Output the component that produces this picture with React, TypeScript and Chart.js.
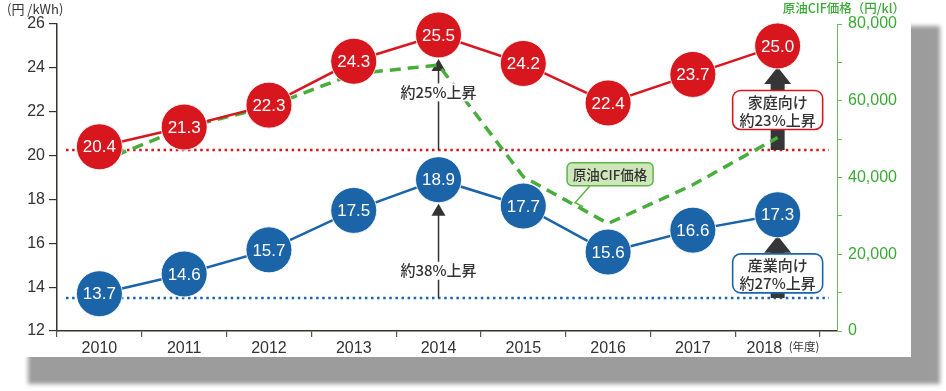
import React, { useEffect, useRef } from 'react';
import { Chart, registerables } from 'chart.js';

Chart.register(...registerables);

// ---- data ----
const years = ['2010', '2011', '2012', '2013', '2014', '2015', '2016', '2017', '2018'];
const householdPrice = [20.4, 21.3, 22.3, 24.3, 25.5, 24.2, 22.4, 23.7, 25.0];
const industrialPrice = [13.7, 14.6, 15.7, 17.5, 18.9, 17.7, 15.6, 16.6, 17.3];
const crudeCifPrice = [44000, 53000, 58500, 67000, 69300, 40200, 28000, 38100, 50400];
const householdBaseline = 20.25;
const industrialBaseline = 13.5;
const leftAxisMin = 12;
const leftAxisMax = 26;
const leftAxisStep = 2;
const rightAxisMin = 0;
const rightAxisMax = 80000;
const rightAxisStep = 10000;
const rightLabelStep = 20000;

// ---- texts ----
const leftTitle = '(円 /kWh)';
const rightTitle = '原油CIF価格（円/kl）';
const yearUnit = '(年度)';
const riseHousehold2014 = '約25%上昇';
const riseIndustrial2014 = '約38%上昇';
const householdBoxLines = ['家庭向け', '約23%上昇'];
const industrialBoxLines = ['産業向け', '約27%上昇'];
const crudeCallout = '原油CIF価格';

// ---- styles ----
const RED = '#d7161d';
const BLUE = '#1b64a8';
const GREEN = '#47ad3b';
const GREEN_TEXT = '#3aa935';
const DARK = '#333333';
const AXIS = '#3a3030';
const R = 23;
const NUM = '"Liberation Sans", "Noto Sans CJK JP", sans-serif';
const JP = '"Noto Sans CJK JP", "Liberation Sans", sans-serif';

function roundRectPath(ctx: CanvasRenderingContext2D, x: number, y: number, w: number, h: number, r: number) {
  ctx.beginPath();
  ctx.moveTo(x + r, y);
  ctx.lineTo(x + w - r, y);
  ctx.arcTo(x + w, y, x + w, y + r, r);
  ctx.lineTo(x + w, y + h - r);
  ctx.arcTo(x + w, y + h, x + w - r, y + h, r);
  ctx.lineTo(x + r, y + h);
  ctx.arcTo(x, y + h, x, y + h - r, r);
  ctx.lineTo(x, y + r);
  ctx.arcTo(x, y, x + r, y, r);
  ctx.closePath();
}

const annotPlugin = {
  id: 'annot',
  beforeDatasetsDraw(chart: any) {
    const { ctx, chartArea: ca, scales } = chart;
    const x = scales.x;
    const y = scales.y;
    ctx.save();
    const dotted = (v: number, color: string) => {
      const py = y.getPixelForValue(v);
      ctx.beginPath();
      ctx.setLineDash([2.5, 3.6]);
      ctx.lineWidth = 2.5;
      ctx.strokeStyle = color;
      ctx.moveTo(ca.left + 9, py);
      ctx.lineTo(ca.right - 8, py);
      ctx.stroke();
    };
    dotted(householdBaseline, RED);
    dotted(industrialBaseline, BLUE);
    ctx.setLineDash([]);

    const i14 = 4;
    const px = x.getPixelForValue(i14);
    const thin = (base: number, val: number) => {
      const y0 = y.getPixelForValue(base);
      const tip = y.getPixelForValue(val) + R + 1;
      ctx.beginPath();
      ctx.strokeStyle = DARK;
      ctx.lineWidth = 1.5;
      ctx.moveTo(px, y0);
      ctx.lineTo(px, tip + 10);
      ctx.stroke();
      ctx.beginPath();
      ctx.fillStyle = DARK;
      ctx.moveTo(px, tip);
      ctx.lineTo(px - 7, tip + 12);
      ctx.lineTo(px + 7, tip + 12);
      ctx.closePath();
      ctx.fill();
    };
    thin(householdBaseline, householdPrice[i14]);
    thin(industrialBaseline, industrialPrice[i14]);

    const i18 = 8;
    const qx = x.getPixelForValue(i18);
    const thick = (base: number, val: number) => {
      const y0 = y.getPixelForValue(base);
      const tip = y.getPixelForValue(val) + R - 2;
      const hh = 17;
      ctx.beginPath();
      ctx.fillStyle = '#363636';
      ctx.moveTo(qx, tip);
      ctx.lineTo(qx + 13.5, tip + hh);
      ctx.lineTo(qx + 7, tip + hh);
      ctx.lineTo(qx + 7, y0);
      ctx.lineTo(qx - 7, y0);
      ctx.lineTo(qx - 7, tip + hh);
      ctx.lineTo(qx - 13.5, tip + hh);
      ctx.closePath();
      ctx.fill();
    };
    thick(householdBaseline, householdPrice[i18]);
    thick(industrialBaseline, industrialPrice[i18]);
    ctx.restore();
  },
  afterDatasetsDraw(chart: any) {
    const { ctx, scales } = chart;
    const x = scales.x;
    const y = scales.y;
    ctx.save();
    ctx.font = `17px ${NUM}`;
    ctx.fillStyle = '#fff';
    ctx.textAlign = 'center';
    ctx.textBaseline = 'middle';
    [0, 1].forEach((di) => {
      const meta = chart.getDatasetMeta(di);
      const vals = chart.data.datasets[di].data as number[];
      meta.data.forEach((pt: any, j: number) => {
        ctx.fillText(vals[j].toFixed(1), pt.x, pt.y + 1);
      });
    });

    const px = x.getPixelForValue(4);
    ctx.font = `500 15px ${JP}`;
    const label = (t: string, v: number) => {
      const py = y.getPixelForValue(v);
      const w = ctx.measureText(t).width;
      ctx.fillStyle = '#fff';
      ctx.fillRect(px - w / 2 - 3, py - 9, w + 6, 18);
      ctx.fillStyle = DARK;
      ctx.fillText(t, px, py);
    };
    label(riseHousehold2014, 22.88);
    label(riseIndustrial2014, 14.75);

    const qx = x.getPixelForValue(8);
    const box = (lines: string[], v: number, color: string) => {
      const cy = y.getPixelForValue(v);
      const w = 90;
      const h = 39;
      roundRectPath(ctx, qx - w / 2, cy - h / 2, w, h, 8);
      ctx.fillStyle = '#fff';
      ctx.fill();
      ctx.lineWidth = 1.6;
      ctx.strokeStyle = color;
      ctx.stroke();
      ctx.fillStyle = DARK;
      ctx.font = `500 15px ${JP}`;
      ctx.fillText(lines[0], qx, cy - 8);
      ctx.fillText(lines[1], qx, cy + 10);
    };
    box(householdBoxLines, 22.08, RED);
    box(industrialBoxLines, 14.63, BLUE);

    const cx = x.getPixelForValue(6) + 2;
    const cy = y.getPixelForValue(19.15);
    const bw = 86;
    const bh = 23;
    ctx.beginPath();
    ctx.strokeStyle = '#5db548';
    ctx.lineWidth = 1.5;
    ctx.moveTo(cx - 20, cy + bh / 2);
    ctx.lineTo(cx - 35, cy + bh / 2 + 17);
    ctx.lineTo(cx - 27, cy + bh / 2 + 21);
    ctx.stroke();
    roundRectPath(ctx, cx - bw / 2, cy - bh / 2, bw, bh, 5);
    ctx.fillStyle = '#cfe6bb';
    ctx.fill();
    ctx.stroke();
    ctx.fillStyle = DARK;
    ctx.font = `500 13.5px ${JP}`;
    ctx.fillText(crudeCallout, cx, cy + 1);

    ctx.textBaseline = 'middle';
    ctx.font = `13px ${JP}`;
    ctx.textAlign = 'left';
    ctx.fillStyle = DARK;
    ctx.fillText(leftTitle, 7, 9);
    ctx.fillStyle = GREEN_TEXT;
    ctx.textAlign = 'right';
    ctx.font = `500 12.5px ${JP}`;
    ctx.fillText(rightTitle, 905, 8);

    ctx.fillStyle = DARK;
    ctx.textAlign = 'left';
    ctx.font = `11.5px ${JP}`;
    ctx.fillText(yearUnit, qx + 11, 347);
    ctx.restore();
  },
};

export default function App() {
  const ref = useRef<HTMLCanvasElement | null>(null);
  useEffect(() => {
    if (!ref.current) return;
    const chart = new Chart(ref.current, {
      type: 'line',
      data: {
        labels: years,
        datasets: [
          {
            label: 'household',
            data: householdPrice,
            yAxisID: 'y',
            borderColor: RED,
            backgroundColor: RED,
            borderWidth: 2.5,
            pointRadius: R,
            pointHoverRadius: R,
            pointBackgroundColor: RED,
            pointBorderColor: 'rgba(255,255,255,0.85)',
            pointBorderWidth: 1,
            clip: false,
            order: 1,
          },
          {
            label: 'industrial',
            data: industrialPrice,
            yAxisID: 'y',
            borderColor: BLUE,
            backgroundColor: BLUE,
            borderWidth: 2.5,
            pointRadius: R,
            pointHoverRadius: R,
            pointBackgroundColor: BLUE,
            pointBorderColor: 'rgba(255,255,255,0.85)',
            pointBorderWidth: 1,
            clip: false,
            order: 2,
          },
          {
            label: 'crude',
            data: crudeCifPrice,
            yAxisID: 'y2',
            borderColor: GREEN,
            borderWidth: 3.5,
            borderDash: [11, 7],
            pointRadius: 0,
            pointHoverRadius: 0,
            clip: false,
            order: 3,
          },
        ],
      } as any,
      options: {
        animation: false,
        responsive: false,
        events: [],
        layout: { padding: { left: 0, right: 0, top: 22, bottom: 0 } },
        plugins: { legend: { display: false }, tooltip: { enabled: false } },
        scales: {
          x: {
            type: 'category',
            offset: true,
            afterBuildTicks: (s: any) => {
              s._valueRange = 9.2;
            },
            afterFit: (s: any) => {
              s.height = 60;
            },
            grid: { offset: true, drawOnChartArea: false, drawTicks: true, tickLength: 6, color: '#555', lineWidth: 1.2 },
            border: { color: AXIS, width: 1.5 },
            ticks: {
              color: DARK,
              font: { family: NUM, size: 16 },
              padding: 2,
              autoSkip: false,
              maxRotation: 0,
              callback: (_v: any, i: number) => (i === years.length - 1 ? years[i] + '      ' : years[i]),
            },
          },
          y: {
            position: 'left',
            min: leftAxisMin,
            max: leftAxisMax,
            afterFit: (s: any) => {
              s.width = 57;
            },
            grid: { drawOnChartArea: false, tickLength: 8, color: DARK, lineWidth: 1.2 },
            border: { color: AXIS, width: 1.5 },
            ticks: { stepSize: leftAxisStep, color: DARK, font: { family: NUM, size: 16 }, padding: 4 },
          },
          y2: {
            position: 'right',
            min: rightAxisMin,
            max: rightAxisMax,
            afterFit: (s: any) => {
              s.width = 109;
            },
            grid: { drawOnChartArea: false, tickLength: 5, color: '#6dbb5a', lineWidth: 1 },
            border: { color: '#6dbb5a', width: 1 },
            ticks: {
              stepSize: rightAxisStep,
              color: GREEN_TEXT,
              font: { family: NUM, size: 16 },
              padding: 6,
              callback: (v: any) => (Number(v) % rightLabelStep === 0 ? Number(v).toLocaleString('en-US') : ''),
            },
          },
        },
      } as any,
      plugins: [annotPlugin],
    });
    return () => chart.destroy();
  }, []);

  return (
    <div style={{ position: 'absolute', left: 0, top: 0, width: 946, height: 391, overflow: 'hidden', background: '#fff' }}>
      <div style={{ position: 'absolute', left: 28, top: 26, width: 912, height: 358, background: '#9c9c9c', filter: 'blur(2px)' }} />
      <div style={{ position: 'absolute', left: 0, top: 0, width: 911, height: 357, background: '#fff' }} />
      <canvas ref={ref} width={946} height={391} style={{ position: 'absolute', left: 0, top: 0, width: 946, height: 391 }} />
    </div>
  );
}
